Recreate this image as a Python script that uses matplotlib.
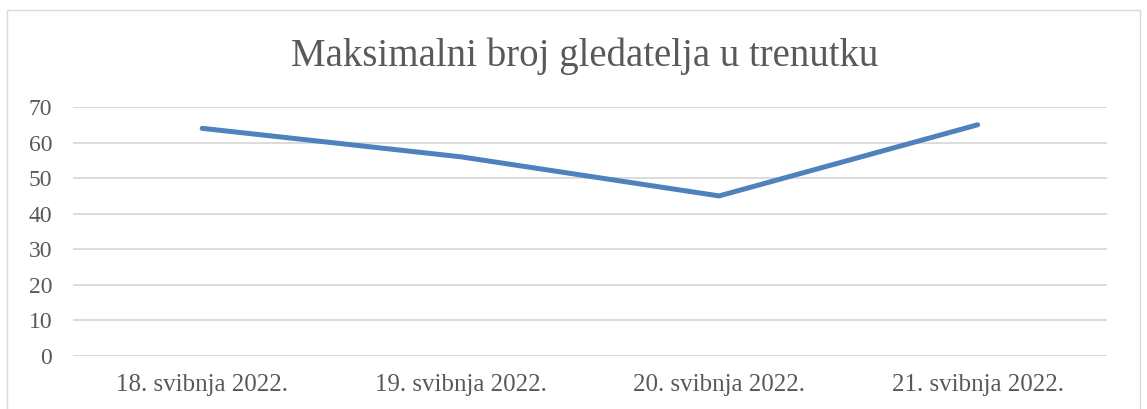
import matplotlib
matplotlib.use("Agg")
import matplotlib.pyplot as plt
from matplotlib.patches import Rectangle

# podaci
dates = ['18. svibnja 2022.', '19. svibnja 2022.', '20. svibnja 2022.', '21. svibnja 2022.']
viewers = [64, 56, 45, 65]
yticks = [0, 10, 20, 30, 40, 50, 60, 70]

plt.rcParams['font.family'] = ['Liberation Serif', 'DejaVu Serif']

fig = plt.figure(figsize=(11.47, 4.09), dpi=100)
ax = fig.add_axes([0.0636, 0.1296, 0.9014, 0.6088])

X = list(range(len(dates)))
ax.plot(X, viewers, color='#4F81BD', linewidth=3.6, solid_capstyle='round',
        solid_joinstyle='round', zorder=3)

ax.set_xlim(-0.5, len(dates) - 0.5)
ax.set_ylim(0, 70)
ax.set_yticks(yticks)
ax.set_xticks(X)
ax.set_xticklabels(dates)
ax.grid(axis='y', color='#D9D9D9', linewidth=1.3)
ax.set_axisbelow(True)
for s in ax.spines.values():
    s.set_visible(False)
ax.tick_params(axis='both', length=0, colors='#595959', labelsize=17)
ax.tick_params(axis='x', labelsize=18, pad=13)
ax.tick_params(axis='y', pad=15)

fig.text(0.51, 0.862, 'Maksimalni broj gledatelja u trenutku', ha='center', va='center',
         fontsize=28, color='#595959')

# okvir grafikona
fig.patches.append(Rectangle((0.006, -0.1), 0.988, 1.075, transform=fig.transFigure,
                             fill=False, edgecolor='#D9D9D9', linewidth=1))

fig.savefig('out.png', dpi=100)
